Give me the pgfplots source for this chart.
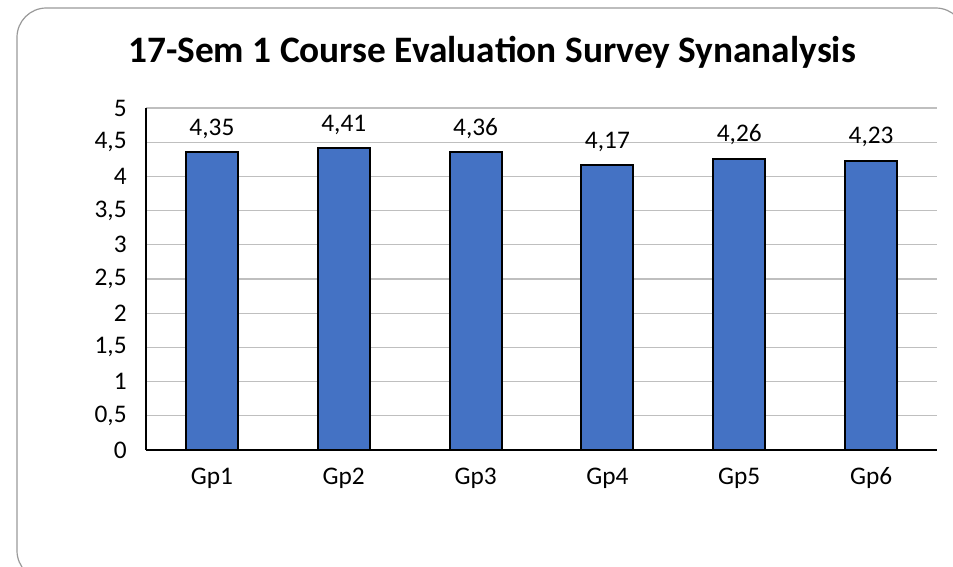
\documentclass[border=0pt]{standalone}
\usepackage{pgfplots}
\pgfplotsset{compat=1.18}
\usepackage{fontspec}
\setmainfont{Carlito}
\definecolor{barblue}{HTML}{4472C4}
\begin{document}
\begin{tikzpicture}
\useasboundingbox (0,0) rectangle ({953*0.75pt},{-567*0.75pt});
\clip (0,0) rectangle ({953*0.75pt},{-567*0.75pt});
\draw[color=black!40, line width=0.9pt, rounded corners=22pt] ({17*0.75pt},{-8*0.75pt}) rectangle ({965*0.75pt},{-580*0.75pt});
\node[font=\fontsize{28}{32}\selectfont\bfseries] at ({492*0.75pt},{-52*0.75pt}) {17-Sem 1 Course Evaluation Survey Synanalysis};
\begin{axis}[
  at={({146*0.75pt},{-450*0.75pt})}, anchor=origin,
  scale only axis, width={791*0.75pt}, height={342*0.75pt},
  ymin=0, ymax=5, ytick={0,0.5,...,5},
  xmin=0.5, xmax=6.5, xtick=data,
  xticklabels={Gp1,Gp2,Gp3,Gp4,Gp5,Gp6},
  axis x line*=bottom, axis y line*=left,
  axis line style={black, line width=0.8pt, -},
  major tick length=0pt,
  ymajorgrids, grid style={color=black!25, line width=0.8pt},
  tick label style={font=\fontsize{19}{22}\selectfont},
  /pgf/number format/use comma,
  /pgf/number format/assume math mode=true,
  yticklabel style={xshift=-11pt},
  xticklabel style={yshift=-16pt, text height=0.62em, text depth=0.2em},
  ybar, bar width={52*0.75pt},
  nodes near coords,
  nodes near coords style={font=\fontsize{19}{22}\selectfont, /pgf/number format/fixed, /pgf/number format/fixed zerofill, /pgf/number format/precision=2, /pgf/number format/use comma, yshift=6pt},
]
\addplot[fill=barblue, draw=black, line width=1.5pt] coordinates {(1,4.35) (2,4.41) (3,4.36) (4,4.17) (5,4.26) (6,4.23)};
\end{axis}
\end{tikzpicture}
\end{document}
